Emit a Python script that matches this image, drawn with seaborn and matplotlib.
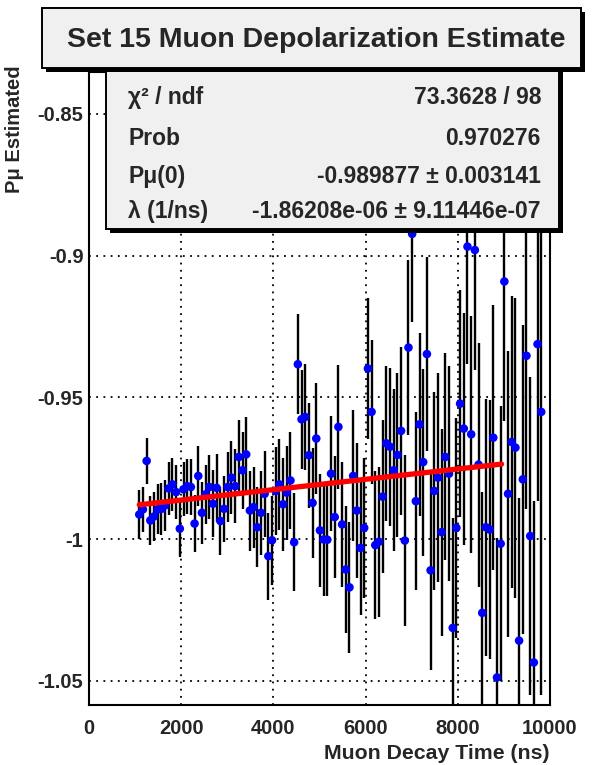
import numpy as np
import matplotlib
matplotlib.use("Agg")
import matplotlib.pyplot as plt
from matplotlib.patches import Rectangle
from matplotlib.ticker import MultipleLocator
import seaborn as sns

# decay time bin centres (ns)
decay_time = [1090, 1170, 1250, 1330, 1410, 1490, 1570, 1650, 1730, 1810,
              1890, 1970, 2050, 2130, 2210, 2290, 2370, 2450, 2530, 2610,
              2690, 2770, 2850, 2930, 3010, 3090, 3170, 3250, 3330, 3410,
              3490, 3570, 3650, 3730, 3810, 3890, 3970, 4050, 4130, 4210,
              4290, 4370, 4450, 4530, 4610, 4690, 4770, 4850, 4930, 5010,
              5090, 5170, 5250, 5330, 5410, 5490, 5570, 5650, 5730, 5810,
              5890, 5970, 6050, 6130, 6210, 6290, 6370, 6450, 6530, 6610,
              6690, 6770, 6850, 6930, 7010, 7090, 7170, 7250, 7330, 7410,
              7490, 7570, 7650, 7730, 7810, 7890, 7970, 8050, 8130, 8210,
              8290, 8370, 8450, 8530, 8610, 8690, 8770, 8850, 8930, 9010,
              9090, 9170, 9250, 9330, 9410, 9490, 9570, 9650, 9730, 9810]

p_mu = [-0.9913, -0.9895, -0.9724, -0.9934, -0.9920, -0.9895, -0.9893, -0.9881, -0.9821, -0.9807,
        -0.9834, -0.9963, -0.9824, -0.9813, -0.9816, -0.9945, -0.9777, -0.9907, -0.9842, -0.9816,
        -0.9875, -0.9819, -0.9936, -0.9893, -0.9816, -0.9783, -0.9813, -0.9710, -0.9757, -0.9701,
        -0.9899, -0.9887, -0.9958, -0.9907, -0.9840, -1.0060, -1.0004, -0.9830, -0.9807, -0.9877,
        -0.9836, -0.9793, -1.0011, -0.9383, -0.9577, -0.9569, -0.9704, -0.9872, -0.9645, -0.9969,
        -1.0001, -1.0002, -0.9769, -0.9922, -0.9604, -0.9948, -1.0107, -1.0170, -0.9777, -0.9899,
        -1.0031, -0.9960, -0.9398, -0.9551, -1.0021, -1.0009, -0.9850, -0.9662, -0.9674, -0.9757,
        -0.9703, -0.9618, -1.0005, -0.9324, -0.8923, -0.9866, -0.9595, -0.9728, -0.9347, -1.0110,
        -0.9830, -0.9783, -0.9975, -0.9710, -0.9769, -1.0313, -0.9960, -0.9522, -0.9610, -0.8968,
        -0.9630, -0.8980, -0.9737, -1.0260, -0.9958, -0.9966, -0.9642, -1.0488, -1.0016, -0.9091,
        -0.9840, -0.9657, -0.9677, -1.0358, -0.9789, -0.9353, -0.9989, -1.0435, -0.9312, -0.9551]

p_err = [0.0088, 0.0080, 0.0082, 0.0085, 0.0088, 0.0088, 0.0091, 0.0091, 0.0093, 0.0094,
         0.0094, 0.0100, 0.0096, 0.0097, 0.0100, 0.0102, 0.0106, 0.0110, 0.0103, 0.0114,
         0.0118, 0.0119, 0.0120, 0.0116, 0.0125, 0.0128, 0.0130, 0.0131, 0.0135, 0.0133,
         0.0141, 0.0143, 0.0141, 0.0148, 0.0151, 0.0153, 0.0156, 0.0154, 0.0159, 0.0165,
         0.0166, 0.0172, 0.0173, 0.0177, 0.0175, 0.0188, 0.0185, 0.0193, 0.0196, 0.0200,
         0.0200, 0.0197, 0.0203, 0.0214, 0.0219, 0.0221, 0.0225, 0.0230, 0.0231, 0.0238,
         0.0238, 0.0247, 0.0249, 0.0254, 0.0262, 0.0265, 0.0270, 0.0273, 0.0279, 0.0285,
         0.0289, 0.0295, 0.0303, 0.0309, 0.0312, 0.0315, 0.0324, 0.0330, 0.0342, 0.0350,
         0.0348, 0.0368, 0.0365, 0.0365, 0.0379, 0.0389, 0.0389, 0.0400, 0.0409, 0.0415,
         0.0418, 0.0424, 0.0430, 0.0425, 0.0454, 0.0456, 0.0468, 0.0492, 0.0485, 0.0492,
         0.0504, 0.0515, 0.0529, 0.0504, 0.0544, 0.0542, 0.0560, 0.0569, 0.0554, 0.1000]

# fit result shown in the stats box
p0 = -0.989877
lam = -1.86208e-06
fit_range = (1090, 8950)

stats_rows = [("χ² / ndf", "73.3628 / 98"),
              ("Prob", "0.970276"),
              ("Pμ(0)", "-0.989877 ± 0.003141"),
              ("λ (1/ns)", "-1.86208e-06 ± 9.11446e-07")]

sns.set_style("white")
plt.rcParams['font.family'] = ['Liberation Sans', 'DejaVu Sans']
plt.rcParams['font.weight'] = 'bold'

W, H = 600, 765
fig = plt.figure(figsize=(W / 100, H / 100), dpi=100)
fig.patch.set_facecolor("white")

# plot frame in pixels: left 89, right 550, top 72, bottom 705
ax = fig.add_axes([89 / W, 1 - 705 / H, (550 - 89) / W, (705 - 72) / H])

ax.errorbar(decay_time, p_mu, yerr=p_err, fmt='none', ecolor='black',
            elinewidth=1.7, capsize=0, zorder=2)
sns.scatterplot(x=decay_time, y=p_mu, ax=ax, color='#0000ff', s=38,
                edgecolor='none', zorder=3)

t_fit = np.linspace(fit_range[0], fit_range[1], 60)
sns.lineplot(x=t_fit, y=p0 * np.exp(lam * t_fit), ax=ax, color='#ff0000',
             linewidth=3.8, zorder=4)

ax.set_xlim(0, 10000)
ax.set_ylim(-1.0585, -0.8352)
ax.xaxis.set_major_locator(MultipleLocator(2000))
ax.xaxis.set_minor_locator(MultipleLocator(500))
ax.yaxis.set_major_locator(MultipleLocator(0.05))
ax.yaxis.set_minor_locator(MultipleLocator(0.01))
ax.yaxis.set_major_formatter(matplotlib.ticker.FuncFormatter(
    lambda v, _: f"{v:g}"))
ax.tick_params(axis='x', which='major', direction='in', length=12.5, width=1.3,
               labelsize=14.5, pad=10)
ax.tick_params(axis='x', which='minor', direction='in', length=6, width=1.3)
ax.tick_params(axis='y', which='major', direction='in', length=9.5, width=1.3,
               labelsize=14.5, pad=4)
ax.tick_params(axis='y', which='minor', direction='in', length=5, width=1.3)
for lab in ax.get_xticklabels() + ax.get_yticklabels():
    lab.set_fontweight('bold')
ax.grid(True, which='major', color='black', linestyle=(0, (1, 3)), linewidth=1.3)
for sp in ax.spines.values():
    sp.set_linewidth(1.5)
    sp.set_color('black')

ax.set_xlabel("Muon Decay Time (ns)", fontsize=15.3, fontweight='bold')
ax.xaxis.set_label_coords(1.0, -0.062)
ax.xaxis.label.set_horizontalalignment('right')
ax.set_ylabel("Pμ Estimated", fontsize=14.5, fontweight='bold')
ax.yaxis.set_label_coords(-0.14, 1.01)
ax.yaxis.label.set_horizontalalignment('right')

# overlay in pixel coordinates for the ROOT style boxes
ov = fig.add_axes([0, 0, 1, 1], zorder=10)
ov.set_xlim(0, W)
ov.set_ylim(H, 0)
ov.axis('off')
ov.patch.set_alpha(0)

def shadow_box(x0, y0, x1, y1, off=4):
    ov.add_patch(Rectangle((x0 + off, y0 + off), x1 - x0, y1 - y0,
                           facecolor='black', edgecolor='none'))
    ov.add_patch(Rectangle((x0, y0), x1 - x0, y1 - y0, facecolor='#f0f0f0',
                           edgecolor='black', linewidth=1.4))

# stats box
shadow_box(106, 60, 559, 229)
row_y = [97, 138, 176, 211]
for (name, val), yy in zip(stats_rows, row_y):
    ov.text(128, yy, name, fontsize=16.5, fontweight='bold', va='center', ha='left')
    ov.text(541, yy, val, fontsize=16.5, fontweight='bold', va='center', ha='right')

# title box
shadow_box(42, 8, 581, 68)
ov.text(316, 40, "Set 15 Muon Depolarization Estimate", fontsize=20.5,
        fontweight='bold', ha='center', va='center')

fig.savefig("out.png", dpi=100)
